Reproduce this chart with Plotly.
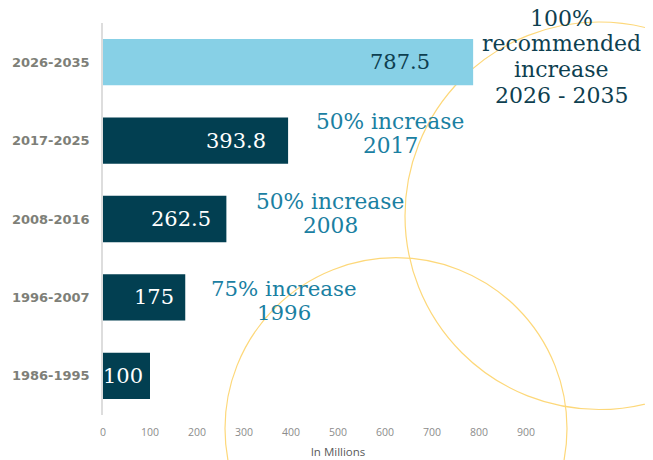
import plotly.graph_objects as go

# ---- data ----
periods = ["1986-1995", "1996-2007", "2008-2016", "2017-2025", "2026-2035"]
funding = [100, 175, 262.5, 393.8, 787.5]
value_labels = ["100", "175", "262.5", "393.8", "787.5"]
bar_colors = ["#023F51", "#023F51", "#023F51", "#023F51", "#87D0E6"]
label_colors = ["white", "white", "white", "white", "#0E3F50"]
x_ticks = [0, 100, 200, 300, 400, 500, 600, 700, 800, 900]
x_title = "In Millions"
callouts = [
    (["100%", "recommended", "increase", "2026 - 2035"], "#0E3F50", 22),
    (["50% increase", "2017"], "#1A80A2", 21.7),
    (["50% increase", "2008"], "#1A80A2", 21.7),
    (["75% increase", "1996"], "#1A80A2", 21.3),
]

# ---- layout geometry (pixels) ----
OFF = 8                      # page offset of the figure (body margin)
W, H = 645, 452
ML, MR, MT, MB = 95, 80, 15, 44.5
PW, PH = W - ML - MR, H - MT - MB


def px(x):
    """page x pixel -> paper x"""
    return (x - OFF - ML) / PW


def py(y):
    """page y pixel -> paper y"""
    return (H - MB - (y - OFF)) / PH


fig = go.Figure()
fig.add_trace(go.Bar(
    y=periods, x=funding, orientation="h",
    marker=dict(color=bar_colors, line=dict(width=0)),
    width=0.59, hoverinfo="skip",
))

# value labels inside bars
for p, v, t, c in zip(periods, funding, value_labels, label_colors):
    fig.add_annotation(x=v * 0.89, y=p, xref="x", yref="y", text=t,
                       showarrow=False, xanchor="right", yanchor="middle",
                       font=dict(family="DejaVu Serif", size=21, color=c))

# callout text (one annotation per line)
callout_pos = [(561, 18, 26), (390, 122, 24), (330, 202, 24), (284, 289, 24)]
for (lines, col, sz), (cx, y0, dy) in zip(callouts, callout_pos):
    for i, ln in enumerate(lines):
        fig.add_annotation(x=px(cx), y=py(y0 + i * dy), xref="paper", yref="paper",
                           text=ln, showarrow=False, xanchor="center",
                           yanchor="middle", align="center",
                           font=dict(family="DejaVu Serif", size=sz, color=col))

# decorative circles
for (cx, cy, r) in [(599, 216, 194), (396, 429, 171)]:
    fig.add_shape(type="circle", xref="paper", yref="paper",
                  x0=px(cx - r), x1=px(cx + r), y0=py(cy + r), y1=py(cy - r),
                  line=dict(color="#FDD87A", width=1.2), layer="below")

fig.update_layout(
    width=W, height=H,
    margin=dict(l=ML, r=MR, t=MT, b=MB, autoexpand=False),
    paper_bgcolor="white", plot_bgcolor="white",
    showlegend=False,
    xaxis=dict(range=[0, 1000], tickvals=x_ticks, showgrid=False,
               zeroline=False, showline=False, ticks="",
               ticklabelstandoff=9,
               tickfont=dict(family="Open Sans", size=10.5, color="#8C8C8C"),
               title=dict(text=x_title, standoff=10,
                          font=dict(family="Open Sans", size=11.5, color="#595959"))),
    yaxis=dict(categoryorder="array", categoryarray=periods,
               showgrid=False, zeroline=False, showline=True,
               linecolor="#DDDDDD", linewidth=1.5, ticks="",
               ticklabelstandoff=9,
               tickfont=dict(family="DejaVu Sans", size=13, color="#7E7F78",
                             weight="bold")),
)

fig.write_html("out.html")
